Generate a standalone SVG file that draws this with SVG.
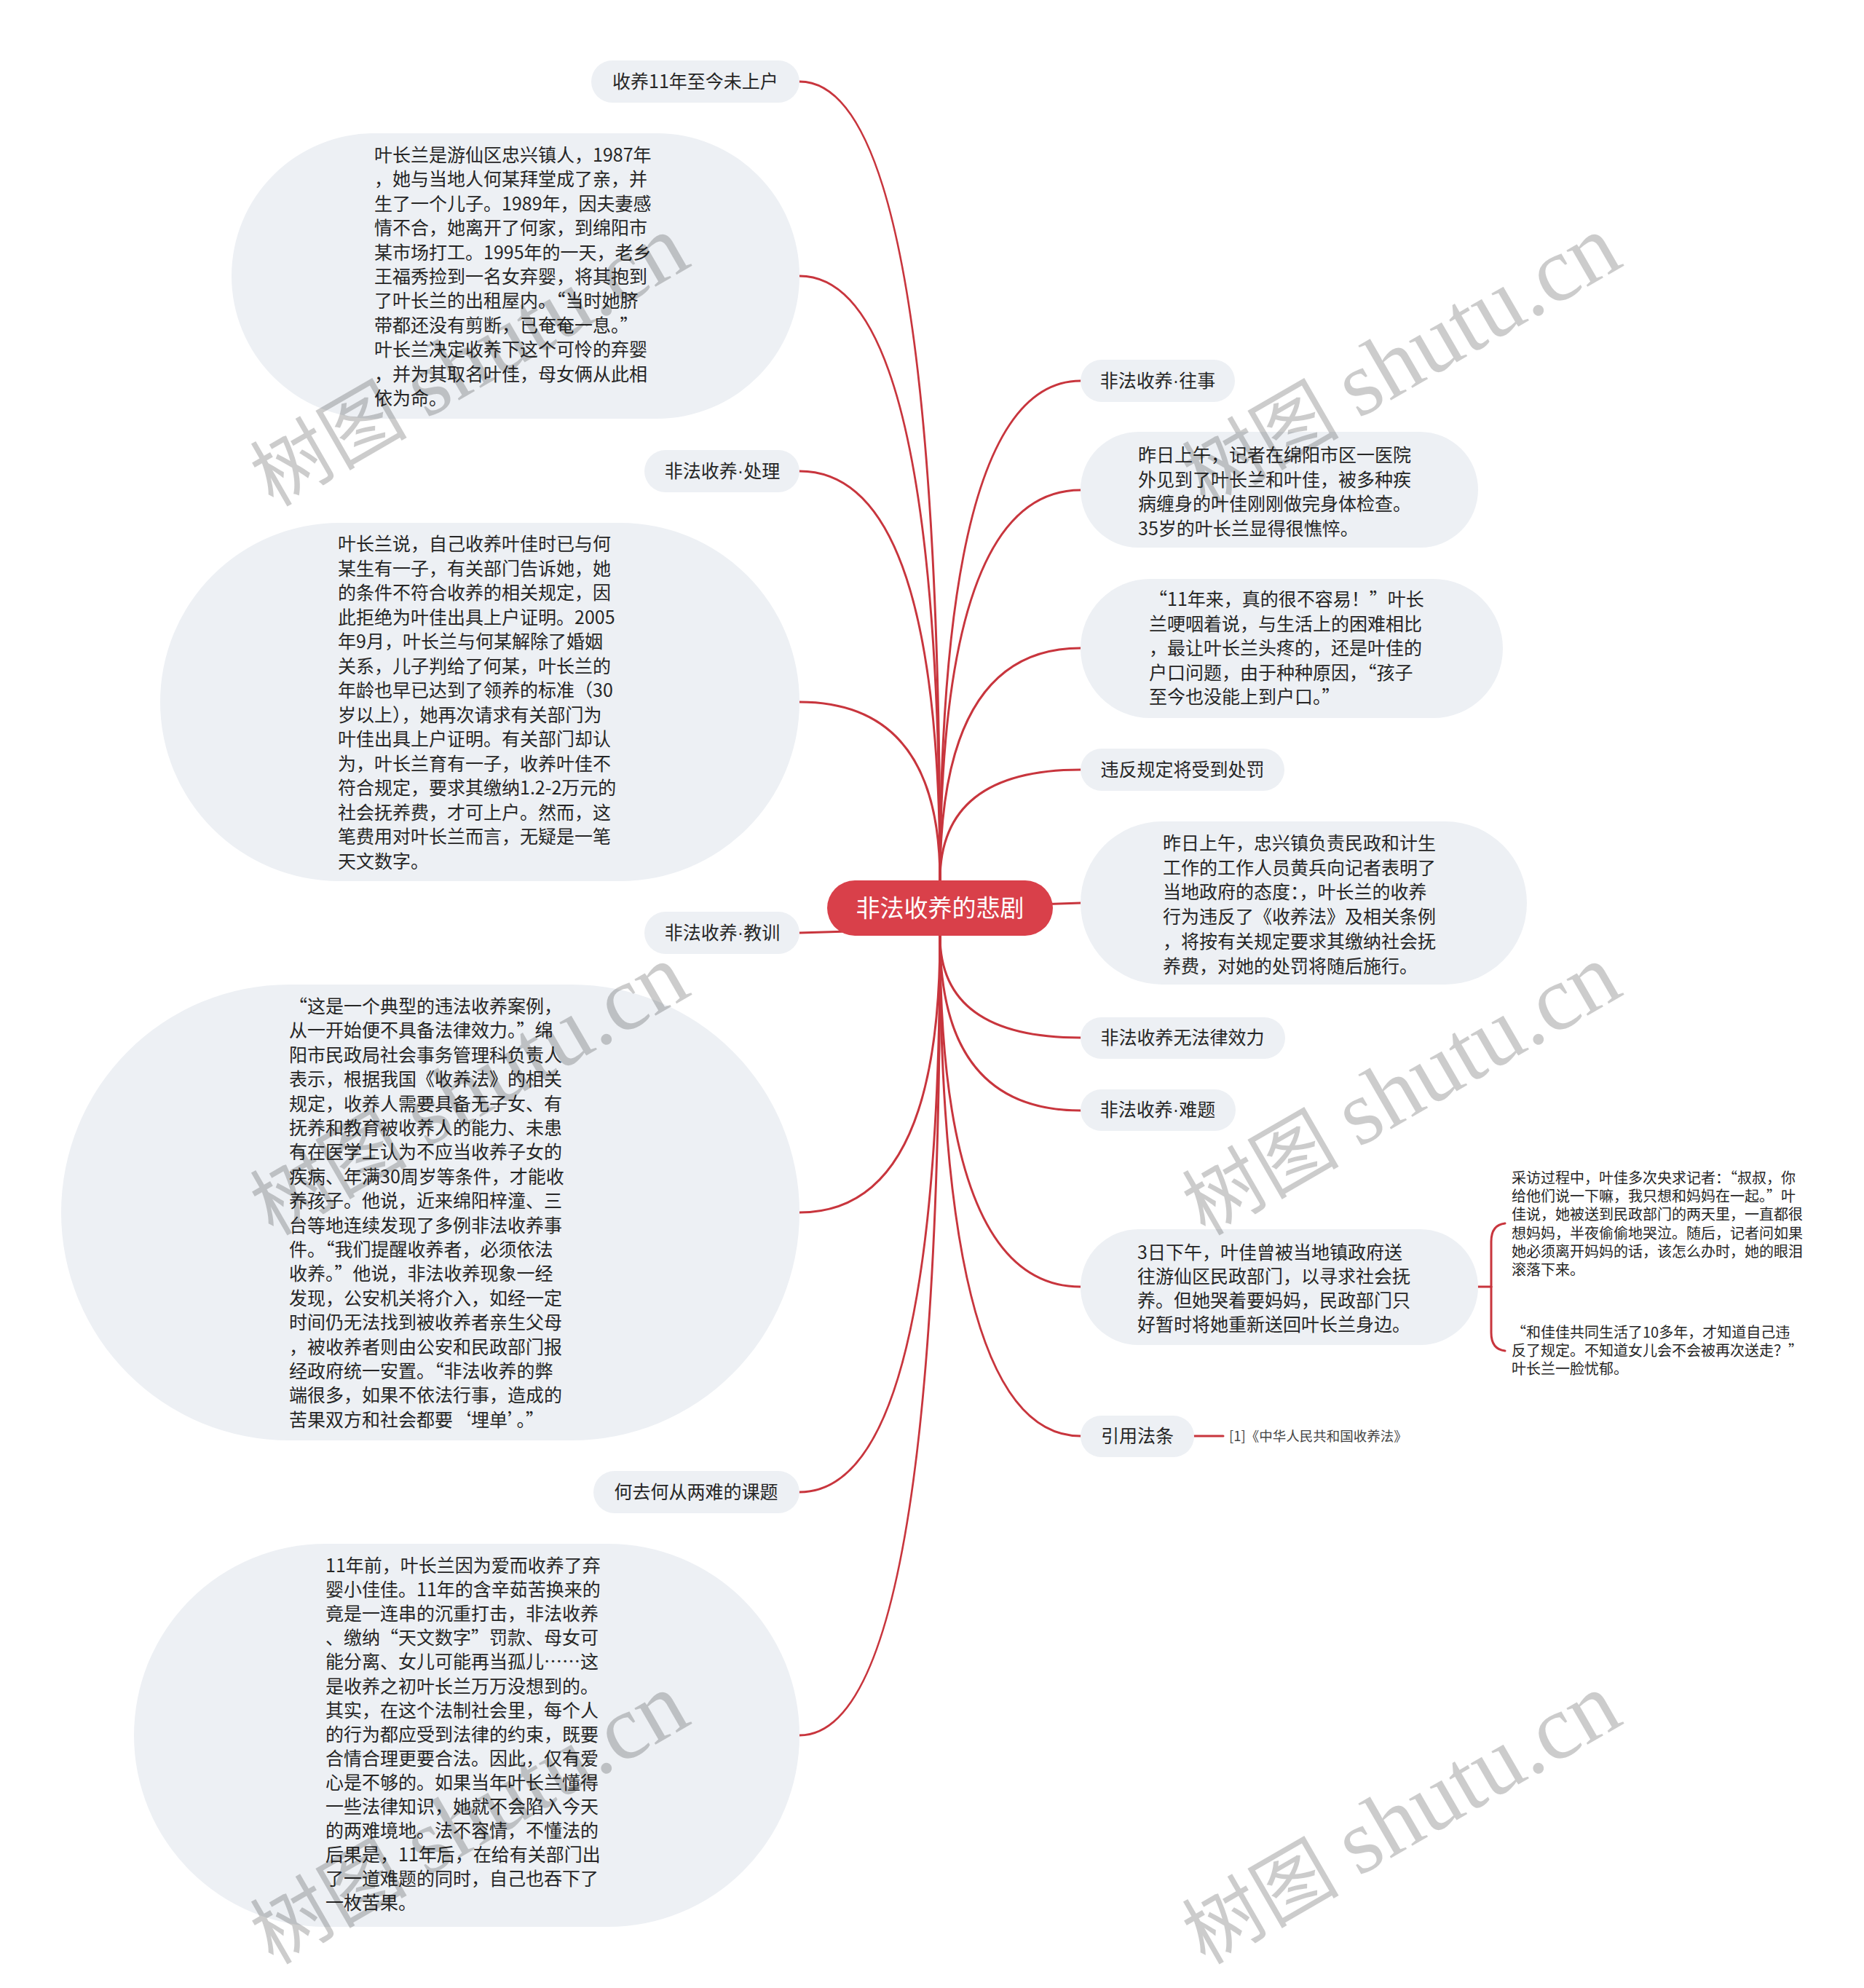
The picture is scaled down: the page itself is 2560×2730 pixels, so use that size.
<svg xmlns="http://www.w3.org/2000/svg" width="2560" height="2730" viewBox="0 0 2560 2730">
<style>
.conn{fill:none;stroke:#c8353d;stroke-width:3;stroke-linecap:round}
.nd{fill:#edf0f4}
.t{font-family:"Noto Sans CJK SC","Liberation Sans",sans-serif;font-size:25px;fill:#262626}
.c{text-anchor:middle}
.dot{font-family:"Liberation Sans","Noto Sans CJK SC",sans-serif}
.ts{font-size:20px}
.tr{font-size:18.5px;fill:#444}
.ct{font-family:"Noto Sans CJK SC","Liberation Sans",sans-serif;font-size:33px;fill:#ffffff;text-anchor:middle}
.wm{font-family:"Liberation Serif","Noto Sans CJK SC",serif;font-size:108px;fill:#000;fill-opacity:0.2}
.wl{font-size:126px}
</style>
<rect width="2560" height="2730" fill="#ffffff"/>
<g id="connectors">
<path class="conn" d="M1098 112 Q1291 112 1291 1209"/>
<path class="conn" d="M1098 379 Q1291 379 1291 1209"/>
<path class="conn" d="M1098 647 Q1291 647 1291 1209"/>
<path class="conn" d="M1098 964 Q1291 964 1291 1209"/>
<path class="conn" d="M1484 523 Q1291 523 1291 1209"/>
<path class="conn" d="M1484 673 Q1291 673 1291 1209"/>
<path class="conn" d="M1484 890 Q1291 890 1291 1209"/>
<path class="conn" d="M1484 1057 Q1291 1057 1291 1209"/>
<path class="conn" d="M1098 1281 L1165 1279"/>
<path class="conn" d="M1425 1242 L1484 1240"/>
<path class="conn" d="M1098 1665 Q1291 1665 1291 1285"/>
<path class="conn" d="M1098 2049 Q1291 2049 1291 1285"/>
<path class="conn" d="M1098 2383 Q1291 2383 1291 1285"/>
<path class="conn" d="M1484 1425 Q1291 1425 1291 1285"/>
<path class="conn" d="M1484 1525 Q1291 1525 1291 1285"/>
<path class="conn" d="M1484 1767 Q1291 1767 1291 1285"/>
<path class="conn" d="M1484 1972 Q1291 1972 1291 1285"/>
<path class="conn" d="M2030 1767 L2048 1767"/>
<path class="conn" d="M2048 1767 L2048 1705 Q2048 1682 2067 1680"/>
<path class="conn" d="M2048 1767 L2048 1830 Q2048 1853 2067 1855"/>
<path class="conn" d="M1640 1972 L1680 1972"/>
</g>
<g id="root">
<rect x="1136" y="1209" width="310" height="76" rx="38" fill="#d9404a"/>
<text class="ct" x="1291" y="1259">非法收养的悲剧</text>
</g>
<g id="n-a">
<rect class="nd" x="812" y="83" width="286" height="58" rx="29"/>
<text class="t c" x="955" y="121">收养11年至今未上户</text>
</g>
<g id="n-b">
<rect class="nd" x="318" y="183" width="780" height="392" rx="196"/>
<text class="t" x="514" y="222"><tspan x="514">叶长兰是游仙区忠兴镇人，1987年</tspan><tspan x="514" dy="33.4">，她与当地人何某拜堂成了亲，并</tspan><tspan x="514" dy="33.4">生了一个儿子。1989年，因夫妻感</tspan><tspan x="514" dy="33.4">情不合，她离开了何家，到绵阳市</tspan><tspan x="514" dy="33.4">某市场打工。1995年的一天，老乡</tspan><tspan x="514" dy="33.4">王福秀捡到一名女弃婴，将其抱到</tspan><tspan x="514" dy="33.4">了叶长兰的出租屋内。“当时她脐</tspan><tspan x="514" dy="33.4">带都还没有剪断，已奄奄一息。”</tspan><tspan x="514" dy="33.4">叶长兰决定收养下这个可怜的弃婴</tspan><tspan x="514" dy="33.4">，并为其取名叶佳，母女俩从此相</tspan><tspan x="514" dy="33.4">依为命。</tspan></text>
</g>
<g id="n-c">
<rect class="nd" x="885" y="618" width="213" height="58" rx="29"/>
<text class="t c" x="992" y="656">非法收养<tspan class="dot">·</tspan>处理</text>
</g>
<g id="n-d">
<rect class="nd" x="220" y="718" width="878" height="492" rx="246"/>
<text class="t" x="464" y="756"><tspan x="464">叶长兰说，自己收养叶佳时已与何</tspan><tspan x="464" dy="33.5">某生有一子，有关部门告诉她，她</tspan><tspan x="464" dy="33.5">的条件不符合收养的相关规定，因</tspan><tspan x="464" dy="33.5">此拒绝为叶佳出具上户证明。2005</tspan><tspan x="464" dy="33.5">年9月，叶长兰与何某解除了婚姻</tspan><tspan x="464" dy="33.5">关系，儿子判给了何某，叶长兰的</tspan><tspan x="464" dy="33.5">年龄也早已达到了领养的标准（30</tspan><tspan x="464" dy="33.5">岁以上），她再次请求有关部门为</tspan><tspan x="464" dy="33.5">叶佳出具上户证明。有关部门却认</tspan><tspan x="464" dy="33.5">为，叶长兰育有一子，收养叶佳不</tspan><tspan x="464" dy="33.5">符合规定，要求其缴纳1.2-2万元的</tspan><tspan x="464" dy="33.5">社会抚养费，才可上户。然而，这</tspan><tspan x="464" dy="33.5">笔费用对叶长兰而言，无疑是一笔</tspan><tspan x="464" dy="33.5">天文数字。</tspan></text>
</g>
<g id="n-e">
<rect class="nd" x="885" y="1252" width="213" height="58" rx="29"/>
<text class="t c" x="992" y="1290">非法收养<tspan class="dot">·</tspan>教训</text>
</g>
<g id="n-f">
<rect class="nd" x="84" y="1352" width="1014" height="626" rx="313"/>
<text class="t" x="397" y="1391"><tspan x="397">“这是一个典型的违法收养案例，</tspan><tspan x="397" dy="33.4">从一开始便不具备法律效力。”绵</tspan><tspan x="397" dy="33.4">阳市民政局社会事务管理科负责人</tspan><tspan x="397" dy="33.4">表示，根据我国《收养法》的相关</tspan><tspan x="397" dy="33.4">规定，收养人需要具备无子女、有</tspan><tspan x="397" dy="33.4">抚养和教育被收养人的能力、未患</tspan><tspan x="397" dy="33.4">有在医学上认为不应当收养子女的</tspan><tspan x="397" dy="33.4">疾病、年满30周岁等条件，才能收</tspan><tspan x="397" dy="33.4">养孩子。他说，近来绵阳梓潼、三</tspan><tspan x="397" dy="33.4">台等地连续发现了多例非法收养事</tspan><tspan x="397" dy="33.4">件。“我们提醒收养者，必须依法</tspan><tspan x="397" dy="33.4">收养。”他说，非法收养现象一经</tspan><tspan x="397" dy="33.4">发现，公安机关将介入，如经一定</tspan><tspan x="397" dy="33.4">时间仍无法找到被收养者亲生父母</tspan><tspan x="397" dy="33.4">，被收养者则由公安和民政部门报</tspan><tspan x="397" dy="33.4">经政府统一安置。“非法收养的弊</tspan><tspan x="397" dy="33.4">端很多，如果不依法行事，造成的</tspan><tspan x="397" dy="33.4">苦果双方和社会都要‘埋单’。”</tspan></text>
</g>
<g id="n-g">
<rect class="nd" x="815" y="2020" width="283" height="58" rx="29"/>
<text class="t c" x="956" y="2058">何去何从两难的课题</text>
</g>
<g id="n-h">
<rect class="nd" x="184" y="2120" width="914" height="526" rx="263"/>
<text class="t" x="447" y="2159"><tspan x="447">11年前，叶长兰因为爱而收养了弃</tspan><tspan x="447" dy="33.1">婴小佳佳。11年的含辛茹苦换来的</tspan><tspan x="447" dy="33.1">竟是一连串的沉重打击，非法收养</tspan><tspan x="447" dy="33.1">、缴纳“天文数字”罚款、母女可</tspan><tspan x="447" dy="33.1">能分离、女儿可能再当孤儿……这</tspan><tspan x="447" dy="33.1">是收养之初叶长兰万万没想到的。</tspan><tspan x="447" dy="33.1">其实，在这个法制社会里，每个人</tspan><tspan x="447" dy="33.1">的行为都应受到法律的约束，既要</tspan><tspan x="447" dy="33.1">合情合理更要合法。因此，仅有爱</tspan><tspan x="447" dy="33.1">心是不够的。如果当年叶长兰懂得</tspan><tspan x="447" dy="33.1">一些法律知识，她就不会陷入今天</tspan><tspan x="447" dy="33.1">的两难境地。法不容情，不懂法的</tspan><tspan x="447" dy="33.1">后果是，11年后，在给有关部门出</tspan><tspan x="447" dy="33.1">了一道难题的同时，自己也吞下了</tspan><tspan x="447" dy="33.1">一枚苦果。</tspan></text>
</g>
<g id="n-i">
<rect class="nd" x="1484" y="494" width="212" height="58" rx="29"/>
<text class="t c" x="1590" y="532">非法收养<tspan class="dot">·</tspan>往事</text>
</g>
<g id="n-j">
<rect class="nd" x="1484" y="593" width="546" height="159" rx="79.5"/>
<text class="t" x="1563" y="634"><tspan x="1563">昨日上午，记者在绵阳市区一医院</tspan><tspan x="1563" dy="33.7">外见到了叶长兰和叶佳，被多种疾</tspan><tspan x="1563" dy="33.7">病缠身的叶佳刚刚做完身体检查。</tspan><tspan x="1563" dy="33.7">35岁的叶长兰显得很憔悴。</tspan></text>
</g>
<g id="n-k">
<rect class="nd" x="1484" y="795" width="580" height="191" rx="95.5"/>
<text class="t" x="1578" y="832"><tspan x="1578">“11年来，真的很不容易！”叶长</tspan><tspan x="1578" dy="33.5">兰哽咽着说，与生活上的困难相比</tspan><tspan x="1578" dy="33.5">，最让叶长兰头疼的，还是叶佳的</tspan><tspan x="1578" dy="33.5">户口问题，由于种种原因，“孩子</tspan><tspan x="1578" dy="33.5">至今也没能上到户口。”</tspan></text>
</g>
<g id="n-l">
<rect class="nd" x="1484" y="1028" width="280" height="58" rx="29"/>
<text class="t c" x="1624" y="1066">违反规定将受到处罚</text>
</g>
<g id="n-m">
<rect class="nd" x="1484" y="1128" width="613" height="224" rx="112"/>
<text class="t" x="1597" y="1167"><tspan x="1597">昨日上午，忠兴镇负责民政和计生</tspan><tspan x="1597" dy="33.7">工作的工作人员黄兵向记者表明了</tspan><tspan x="1597" dy="33.7">当地政府的态度：，叶长兰的收养</tspan><tspan x="1597" dy="33.7">行为违反了《收养法》及相关条例</tspan><tspan x="1597" dy="33.7">，将按有关规定要求其缴纳社会抚</tspan><tspan x="1597" dy="33.7">养费，对她的处罚将随后施行。</tspan></text>
</g>
<g id="n-n">
<rect class="nd" x="1484" y="1397" width="281" height="57" rx="28.5"/>
<text class="t c" x="1624" y="1434">非法收养无法律效力</text>
</g>
<g id="n-o">
<rect class="nd" x="1484" y="1496" width="213" height="57" rx="28.5"/>
<text class="t c" x="1590" y="1533">非法收养<tspan class="dot">·</tspan>难题</text>
</g>
<g id="n-p">
<rect class="nd" x="1484" y="1688" width="546" height="159" rx="79.5"/>
<text class="t" x="1562" y="1729"><tspan x="1562">3日下午，叶佳曾被当地镇政府送</tspan><tspan x="1562" dy="33.1">往游仙区民政部门，以寻求社会抚</tspan><tspan x="1562" dy="33.1">养。但她哭着要妈妈，民政部门只</tspan><tspan x="1562" dy="33.1">好暂时将她重新送回叶长兰身边。</tspan></text>
</g>
<g id="n-q1">
<text class="t ts" x="2076" y="1625"><tspan x="2076">采访过程中，叶佳多次央求记者：“叔叔，你</tspan><tspan x="2076" dy="25.2">给他们说一下嘛，我只想和妈妈在一起。”叶</tspan><tspan x="2076" dy="25.2">佳说，她被送到民政部门的两天里，一直都很</tspan><tspan x="2076" dy="25.2">想妈妈，半夜偷偷地哭泣。随后，记者问如果</tspan><tspan x="2076" dy="25.2">她必须离开妈妈的话，该怎么办时，她的眼泪</tspan><tspan x="2076" dy="25.2">滚落下来。</tspan></text>
</g>
<g id="n-q2">
<text class="t ts" x="2076" y="1837"><tspan x="2076">“和佳佳共同生活了10多年，才知道自己违</tspan><tspan x="2076" dy="25.2">反了规定。不知道女儿会不会被再次送走？”</tspan><tspan x="2076" dy="25.2">叶长兰一脸忧郁。</tspan></text>
</g>
<g id="n-r">
<rect class="nd" x="1484" y="1944" width="156" height="57" rx="28.5"/>
<text class="t c" x="1562" y="1981">引用法条</text>
</g>
<g id="n-r1">
<text class="t tr" x="1688" y="1979">[1]《中华人民共和国收养法》</text>
</g>
<g id="watermarks">
<text class="wm" x="375" y="697" transform="rotate(-30 375 697)" xml:space="preserve">树图 <tspan class="wl">shutu.cn</tspan></text>
<text class="wm" x="1655" y="697" transform="rotate(-30 1655 697)" xml:space="preserve">树图 <tspan class="wl">shutu.cn</tspan></text>
<text class="wm" x="375" y="1698" transform="rotate(-30 375 1698)" xml:space="preserve">树图 <tspan class="wl">shutu.cn</tspan></text>
<text class="wm" x="1655" y="1698" transform="rotate(-30 1655 1698)" xml:space="preserve">树图 <tspan class="wl">shutu.cn</tspan></text>
<text class="wm" x="375" y="2699" transform="rotate(-30 375 2699)" xml:space="preserve">树图 <tspan class="wl">shutu.cn</tspan></text>
<text class="wm" x="1655" y="2699" transform="rotate(-30 1655 2699)" xml:space="preserve">树图 <tspan class="wl">shutu.cn</tspan></text>
</g>
</svg>
